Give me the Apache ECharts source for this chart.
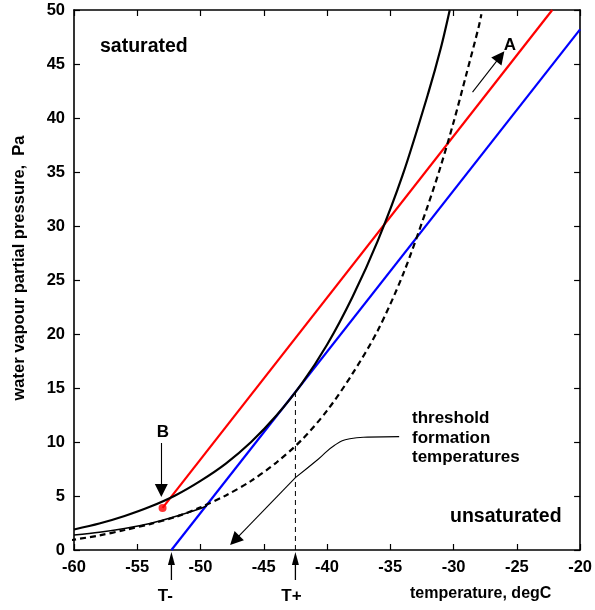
<!DOCTYPE html>
<html>
<head>
<meta charset="utf-8">
<script src="https://cdn.jsdelivr.net/npm/echarts@6/dist/echarts.min.js"></script>
<style>
  html, body { margin: 0; padding: 0; background: #fff; }
  #chart { width: 595px; height: 610px; }
</style>
</head>
<body>
<div id="chart"></div>
<script>
// saturation over liquid water (solid black)
const waterTemps = [-60, -58, -56, -54, -52, -50, -48, -46, -44, -42, -40, -38, -36, -34, -32, -31, -30.3]
const waterPress = [1.9, 2.45, 3.15, 4.0, 5.05, 6.4, 8.0, 10.0, 12.45, 15.4, 19.0, 23.4, 28.6, 34.8, 42.3, 46.5, 50]

// saturation over ice (dashed black)
const iceTemps = [-60.3, -58, -56, -54, -52, -50, -48, -46, -44, -42, -40, -38, -36, -34, -32, -31, -30, -29, -28, -27.8]
const icePress = [0.9, 1.35, 1.85, 2.4, 3.05, 3.95, 5.05, 6.4, 8.1, 10.2, 12.9, 16.3, 20.3, 25.5, 32.0, 35.6, 39.6, 44.0, 48.5, 49.6]

// thin solid line next to the dashed one at low temperatures
const lowTemps = [-60, -58, -56, -54, -52, -50, -49.5]
const lowPress = [1.4, 1.65, 2.0, 2.45, 3.1, 3.85, 4.1]

// mixing lines
const redLine = [[-53.0, 3.9], [-22.2, 50]]
const blueLine = [[-52.3, 0], [-20, 48.2]]
const pointB = [-53.0, 3.9]
const tPlus = -42.5
const tMinus = -52.3
const tPlusPress = 14.7

// annotation arrows
const arrowA = [[-28.5, 42.4], [-26.3, 45.7]]
const arrowB = [[-53.1, 9.9], [-53.1, 5.5]]
const thresholdCurve = [[-34.3, 10.5], [-36.8, 10.45], [-38.2, 10.3], [-39.4, 9.7], [-40.7, 8.4], [-42.5, 6.7]]
const thresholdArrow = [[-42.5, 6.7], [-47.3, 0.9]]

const xTicks = { min: -60, max: -20, interval: 5 }
const yTicks = { min: 0, max: 50, interval: 5 }

const font = 'Liberation Sans, Arial, sans-serif'

function zip(xs, ys) {
  return xs.map((x, i) => [x, ys[i]])
}

const chart = echarts.init(document.getElementById('chart'))

const axisCommon = {
  type: 'value',
  splitLine: { show: false },
  axisLine: { show: true, onZero: false, lineStyle: { color: '#000', width: 1.6 } },
  axisTick: { show: true, inside: true, length: 6, lineStyle: { color: '#000', width: 1.2 } }
}

const labelStyle = {
  color: '#000',
  fontFamily: font,
  fontWeight: 'bold',
  fontSize: 16.5
}

const arrowLine = {
  type: 'lines',
  coordinateSystem: 'cartesian2d',
  polyline: false,
  symbol: ['none', 'triangle'],
  symbolSize: [7, 13],
  lineStyle: { color: '#000', width: 1.1, opacity: 1, curveness: 0 },
  silent: true
}

const option = {
  animation: false,
  backgroundColor: '#fff',
  grid: { left: 74, right: 13, top: 10, bottom: 60, containLabel: false },
  xAxis: [
    Object.assign({}, axisCommon, xTicks, {
      position: 'bottom',
      axisLabel: Object.assign({ margin: 9 }, labelStyle)
    }),
    Object.assign({}, axisCommon, xTicks, {
      position: 'top',
      axisLabel: { show: false }
    })
  ],
  yAxis: [
    Object.assign({}, axisCommon, yTicks, {
      position: 'left',
      axisLabel: Object.assign({ margin: 9 }, labelStyle)
    }),
    Object.assign({}, axisCommon, yTicks, {
      position: 'right',
      axisLabel: { show: false }
    })
  ],
  series: [
    {
      type: 'line',
      data: blueLine,
      symbol: 'none',
      lineStyle: { color: '#0000ff', width: 2.2 }
    },
    {
      type: 'line',
      data: redLine,
      symbol: 'none',
      lineStyle: { color: '#ff0000', width: 2.2 }
    },
    {
      type: 'line',
      data: zip(waterTemps, waterPress),
      symbol: 'none',
      smooth: 0.3,
      lineStyle: { color: '#000', width: 2.2 }
    },
    {
      type: 'line',
      data: zip(lowTemps, lowPress),
      symbol: 'none',
      smooth: 0.3,
      lineStyle: { color: '#000', width: 1.5 }
    },
    {
      type: 'line',
      data: zip(iceTemps, icePress),
      symbol: 'none',
      smooth: 0.3,
      clip: false,
      lineStyle: { color: '#000', width: 2.2, type: [6, 4] }
    },
    {
      type: 'line',
      data: [[tPlus, 0], [tPlus, tPlusPress]],
      symbol: 'none',
      lineStyle: { color: '#000', width: 1, type: [5, 4] }
    },
    {
      type: 'line',
      data: thresholdCurve,
      symbol: 'none',
      smooth: 0.5,
      lineStyle: { color: '#000', width: 1.1 }
    },
    Object.assign({}, arrowLine, { data: [{ coords: thresholdArrow }] }),
    Object.assign({}, arrowLine, { data: [{ coords: arrowA }] }),
    Object.assign({}, arrowLine, { data: [{ coords: arrowB }] }),
    {
      type: 'scatter',
      data: [pointB],
      symbol: 'circle',
      symbolSize: 8,
      itemStyle: { color: '#ff0000' },
      z: 5
    }
  ]
}

chart.setOption(option)

// text and arrows below the x axis
const xm = chart.convertToPixel({ xAxisIndex: 0 }, tMinus)
const xp = chart.convertToPixel({ xAxisIndex: 0 }, tPlus)

function txt(x, y, text, extra) {
  return {
    type: 'text',
    x: x,
    y: y,
    silent: true,
    style: Object.assign({
      text: text,
      fill: '#000',
      font: 'bold 16px ' + font,
      align: 'left',
      verticalAlign: 'middle'
    }, extra || {})
  }
}

function upArrow(x) {
  return [
    { type: 'line', shape: { x1: x, y1: 563, x2: x, y2: 580 }, style: { stroke: '#000', lineWidth: 1.3 } },
    { type: 'polygon', shape: { points: [[x, 552], [x - 3.5, 565], [x + 3.5, 565]] }, style: { fill: '#000' } }
  ]
}

const yTitle = txt(19, 268, 'water vapour partial pressure,  Pa', { align: 'center', font: 'bold 16.5px ' + font })
yTitle.rotation = Math.PI / 2

chart.setOption({
  graphic: [
    txt(100, 47, 'saturated', { font: 'bold 19.5px ' + font }),
    txt(450, 517, 'unsaturated', { font: 'bold 19.5px ' + font }),
    txt(412, 418, 'threshold', { font: 'bold 17px ' + font }),
    txt(412, 438, 'formation', { font: 'bold 17px ' + font }),
    txt(412, 457, 'temperatures', { font: 'bold 17px ' + font }),
    txt(163, 432, 'B', { align: 'center', font: 'bold 17px ' + font }),
    txt(510, 45, 'A', { align: 'center', font: 'bold 17px ' + font }),
    txt(xm - 6, 596, 'T-', { align: 'center', font: 'bold 17px ' + font }),
    txt(xp - 4, 596, 'T+', { align: 'center', font: 'bold 17px ' + font }),
    txt(410, 594, 'temperature, degC'),
    yTitle,
    ...upArrow(xm),
    ...upArrow(xp)
  ]
})
</script>
</body>
</html>
